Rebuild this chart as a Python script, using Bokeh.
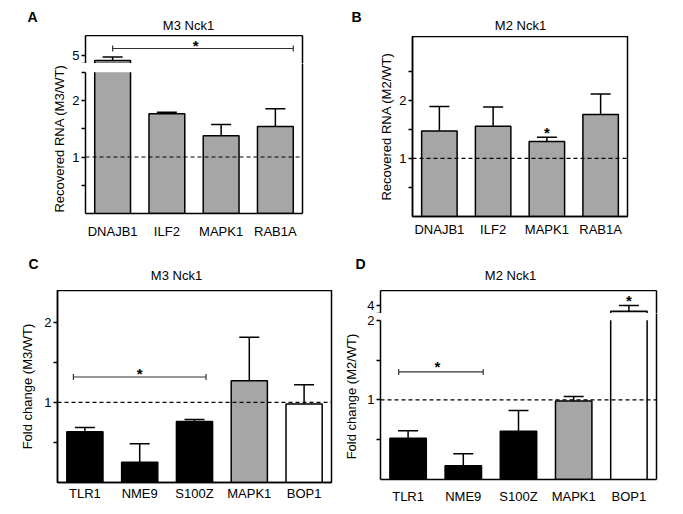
import numpy as np
from bokeh.plotting import figure
from bokeh.models import (FactorRange, Range1d, FixedTicker, Span, Whisker, TeeHead,
                          ColumnDataSource, LinearAxis, BasicTickFormatter)
from bokeh.layouts import row, column
from bokeh.transform import dodge, factor_cmap
from bokeh.core.properties import value
from bokeh.embed import file_html
from bokeh.resources import INLINE

FONT = "Liberation Sans"
GRAY = "#a6a6a6"

# ---------------- data ----------------
genes_top = ["DNAJB1", "ILF2", "MAPK1", "RAB1A"]
groups_top = ["control", "control", "control", "control"]
a_mean = [4.75, 1.70, 1.30, 1.455]
a_upper = [4.92, 1.73, 1.49, 1.81]
b_mean = [1.386, 1.47, 1.225, 1.69]
b_upper = [1.86, 1.85, 1.29, 2.16]

genes_bot = ["TLR1", "NME9", "S100Z", "MAPK1", "BOP1"]
groups_bot = ["down", "down", "down", "control", "other"]
c_mean = [0.775, 0.596, 0.848, 1.206, 0.986]
c_upper = [0.805, 0.699, 0.863, 1.756, 1.165]
d_mean = [0.716, 0.564, 0.761, 0.991, 3.65]
d_upper = [0.765, 0.626, 0.911, 1.03, 4.02]

titles = ["M3 Nck1", "M2 Nck1", "M3 Nck1", "M2 Nck1"]
letters = ["A", "B", "C", "D"]
ylabels = ["Recovered RNA (M3/WT)", "Recovered RNA (M2/WT)",
           "Fold change (M3/WT)", "Fold change (M2/WT)"]

# significance brackets: (left gene, right gene, level)
a_bracket = ("DNAJB1", "RAB1A", 5.35)
c_bracket = ("TLR1", "S100Z", 1.245)
d_bracket = ("TLR1", "NME9", 1.275)
# stars: (gene, level)
a_star = ("ILF2", 5.5)
b_star = ("MAPK1", 1.37)
c_star = ("NME9", 1.285)
d_star1 = ("TLR1", 1.334)
d_star2 = ("BOP1", 4.35)

GROUPS = ["down", "control", "other"]
PALETTE = ["black", GRAY, "white"]
BAR_W = 0.66


def base_fig(xr, yr, log, w, h, bl, br, bt, bb, xaxis=True):
    p = figure(x_range=xr, y_range=yr, y_axis_type="log" if log else "linear",
               width=w, height=h, min_border_left=bl, min_border_right=br,
               min_border_top=bt, min_border_bottom=bb,
               output_backend="svg", toolbar_location=None,
               x_axis_location="below" if xaxis else None)
    p.grid.visible = False
    p.outline_line_color = None
    p.background_fill_color = "white"
    p.border_fill_color = "white"
    return p


def header(w, h, title, tx, ty, letter, lx, ly):
    p = figure(width=w, height=h, x_range=Range1d(0, w), y_range=Range1d(h, 0),
               min_border=0, x_axis_location=None, y_axis_location=None,
               output_backend="svg", toolbar_location=None)
    p.frame_align = False
    p.grid.visible = False
    p.outline_line_color = None
    p.background_fill_color = "white"
    p.border_fill_color = "white"
    p.text(x=[tx], y=[ty], text=[title], text_font=value(FONT), text_font_size="13px",
           text_align="center", text_baseline="middle", text_color="black")
    p.text(x=[lx], y=[ly], text=[letter], text_font=value(FONT), text_font_size="14px",
           text_font_style="bold", text_align="center", text_baseline="middle",
           text_color="black")
    return p


def style_y(ax, major, minor, bounds=None, label=None, lab_standoff=6):
    ax.ticker = FixedTicker(ticks=major, minor_ticks=minor)
    ax.formatter = BasicTickFormatter()
    ax.major_tick_in = 0
    ax.major_tick_out = 4
    ax.minor_tick_in = 0
    ax.minor_tick_out = 4
    ax.major_tick_line_width = 1.5
    ax.minor_tick_line_width = 1.5
    ax.major_tick_line_color = "black"
    ax.minor_tick_line_color = "black"
    ax.axis_line_width = 1.5
    ax.axis_line_color = "black"
    ax.major_label_text_font = FONT
    ax.major_label_text_font_size = "13px"
    ax.major_label_text_color = "black"
    ax.major_label_standoff = 2
    if bounds is not None:
        ax.bounds = bounds
    if label:
        ax.axis_label = label
        ax.axis_label_text_font = FONT
        ax.axis_label_text_font_style = "normal"
        ax.axis_label_text_font_size = "13px"
        ax.axis_label_text_color = "black"
        ax.axis_label_standoff = lab_standoff


def style_x(ax, standoff):
    ax.major_tick_in = 0
    ax.major_tick_out = 0
    ax.minor_tick_in = 0
    ax.minor_tick_out = 0
    ax.major_tick_line_color = None
    ax.minor_tick_line_color = None
    ax.axis_line_width = 1.5
    ax.axis_line_color = "black"
    ax.major_label_text_font = FONT
    ax.major_label_text_font_size = "13px"
    ax.major_label_text_color = "black"
    ax.major_label_standoff = standoff


def edge_axis():
    return LinearAxis(ticker=FixedTicker(ticks=[]), major_tick_line_color=None,
                      minor_tick_line_color=None, major_tick_out=0, minor_tick_out=0,
                      major_tick_in=0, minor_tick_in=0,
                      major_label_text_font_size="0px", major_label_standoff=0,
                      axis_line_width=1.5, axis_line_color="black")


def bars(p, genes, groups, tops, bottom):
    src = ColumnDataSource(dict(x=genes, top=tops, g=groups))
    p.vbar(x="x", top="top", bottom=bottom, width=BAR_W, source=src,
           fill_color=factor_cmap("g", PALETTE, GROUPS),
           line_color="black", line_width=1.5)


def broken_sides(p, genes, groups, top, bottom):
    src = ColumnDataSource(dict(x=genes, g=groups, top=[top] * len(genes)))
    p.vbar(x="x", top="top", bottom=bottom, width=BAR_W, source=src,
           fill_color=factor_cmap("g", PALETTE, GROUPS), line_color=None)
    for off in (-BAR_W / 2, BAR_W / 2):
        p.segment(x0=dodge("x", off, range=p.x_range), x1=dodge("x", off, range=p.x_range),
                  y0=bottom, y1="top", source=src, line_color="black", line_width=1.5)


def errors(p, genes, lows, highs):
    src = ColumnDataSource(dict(x=genes, lower=lows, upper=highs))
    p.add_layout(Whisker(base="x", lower="lower", upper="upper", source=src,
                         line_color="black", line_width=1.5, lower_head=None,
                         upper_head=TeeHead(size=20, line_color="black", line_width=1.5),
                         level="glyph"))


def bracket(p, br, off0, off1):
    src = ColumnDataSource(dict(x0=[br[0]], x1=[br[1]], y=[br[2]]))
    p.segment(x0=dodge("x0", off0, range=p.x_range), x1=dodge("x1", off1, range=p.x_range),
              y0="y", y1="y", source=src, line_color="#333333", line_width=1.2)
    p.scatter(x=dodge("x0", off0, range=p.x_range), y="y", source=src, marker="dash",
              size=6, angle=np.pi / 2, line_color="#333333", line_width=1.2)
    p.scatter(x=dodge("x1", off1, range=p.x_range), y="y", source=src, marker="dash",
              size=6, angle=np.pi / 2, line_color="#333333", line_width=1.2)


def star(p, st, off=0.0):
    src = ColumnDataSource(dict(x=[st[0]], y=[st[1]], t=["*"]))
    p.text(x=dodge("x", off, range=p.x_range), y="y", text="t", source=src,
           text_font=value(FONT), text_font_size="15px", text_font_style="bold",
           text_align="center", text_baseline="alphabetic", text_color="black")


def ref_line(p):
    p.add_layout(Span(location=1, dimension="width", line_color="black",
                      line_dash="4 3", line_width=1.2))


def split(mean, brk):
    keep = [i for i, m in enumerate(mean) if m <= brk]
    over = [i for i, m in enumerate(mean) if m > brk]
    return keep, over


def pick(arr, idx):
    return [arr[i] for i in idx]


SQ2 = 2 ** 0.5

# ---------------- Panel A (broken axis) ----------------
hA = header(340, 35, titles[0], 188, 25, letters[0], 32, 16)
xrA = FactorRange(*genes_top)
A_LO, A_HI, A_BRK = 0.5, 3.15, 2 * SQ2
A_UP = (4.6, 6.0)
keep, over = split(a_mean, A_BRK)

pAt = base_fig(xrA, Range1d(*A_UP), False, 340, 28, 85, 38, 0, 0, xaxis=False)
style_y(pAt.yaxis[0], [5], [A_UP[0] + 0.001])
pAt.add_layout(edge_axis(), "above")
pAt.add_layout(edge_axis(), "right")
bars(pAt, pick(genes_top, over), pick(groups_top, over), pick(a_mean, over), A_UP[0])
errors(pAt, pick(genes_top, over), pick(a_mean, over), pick(a_upper, over))
bracket(pAt, a_bracket, 0.0, 0.33)
star(pAt, a_star, 0.53)

pAb = base_fig(xrA, Range1d(A_LO, A_HI), True, 340, 187, 85, 38, 0, 37)
style_y(pAb.yaxis[0], [1, 2], [SQ2 / 2, SQ2, A_BRK], bounds=(A_LO, A_BRK),
        label=ylabels[0], lab_standoff=2)
style_x(pAb.xaxis[0], 10)
pAb.add_layout(edge_axis(), "right")
bars(pAb, pick(genes_top, keep), pick(groups_top, keep), pick(a_mean, keep), A_LO)
broken_sides(pAb, pick(genes_top, over), pick(groups_top, over), A_BRK, A_LO)
errors(pAb, pick(genes_top, keep), pick(a_mean, keep), pick(a_upper, keep))
ref_line(pAb)

# ---------------- Panel B ----------------
hB = header(335, 36, titles[1], 180, 25, letters[1], 16, 16.5)
xrB = FactorRange(*genes_top)
pB = base_fig(xrB, Range1d(0.5, 4.29), True, 335, 214, 72, 48, 0, 34)
pB.outline_line_color = "black"
pB.outline_line_width = 1.5
style_y(pB.yaxis[0], [1, 2], [SQ2 / 2, SQ2, 2 * SQ2], label=ylabels[1], lab_standoff=2)
style_x(pB.xaxis[0], 5)
bars(pB, genes_top, groups_top, b_mean, 0.5)
errors(pB, genes_top, b_mean, b_upper)
ref_line(pB)
star(pB, b_star)

# ---------------- Panel C ----------------
hC = header(340, 40, titles[2], 176, 25, letters[2], 33, 13)
xrC = FactorRange(*genes_bot)
pC = base_fig(xrC, Range1d(0.5, 2.63), True, 340, 216, 57, 9, 0, 24)
pC.outline_line_color = "black"
pC.outline_line_width = 1.5
style_y(pC.yaxis[0], [1, 2], [SQ2 / 2, SQ2], label=ylabels[2], lab_standoff=6)
style_x(pC.xaxis[0], 3)
bars(pC, genes_bot, groups_bot, c_mean, 0.5)
errors(pC, genes_bot, c_mean, c_upper)
ref_line(pC)
bracket(pC, c_bracket, -0.21, 0.21)
star(pC, c_star)

# ---------------- Panel D (broken axis) ----------------
hD = header(335, 40, titles[3], 170, 25, letters[3], 20, 13)
xrD = FactorRange(*genes_bot)
D_LO, D_HI, D_BRK = 0.5, 2.12, 2.0
D_UP = (3.5, 5.0)
keep, over = split(d_mean, D_BRK)

pDt = base_fig(xrD, Range1d(*D_UP), False, 335, 23, 40, 19, 0, 0, xaxis=False)
style_y(pDt.yaxis[0], [4], [D_UP[0] + 0.001])
pDt.add_layout(edge_axis(), "above")
pDt.add_layout(edge_axis(), "right")
bars(pDt, pick(genes_bot, over), pick(groups_bot, over), pick(d_mean, over), D_UP[0])
errors(pDt, pick(genes_bot, over), pick(d_mean, over), pick(d_upper, over))
star(pDt, d_star2)

pDb = base_fig(xrD, Range1d(D_LO, D_HI), True, 335, 193, 40, 19, 0, 25)
style_y(pDb.yaxis[0], [1, 2], [SQ2 / 2, SQ2], bounds=(D_LO, D_BRK),
        label=ylabels[3], lab_standoff=5)
style_x(pDb.xaxis[0], 9)
pDb.add_layout(edge_axis(), "right")
bars(pDb, pick(genes_bot, keep), pick(groups_bot, keep), pick(d_mean, keep), D_LO)
broken_sides(pDb, pick(genes_bot, over), pick(groups_bot, over), D_BRK, D_LO)
errors(pDb, pick(genes_bot, keep), pick(d_mean, keep), pick(d_upper, keep))
ref_line(pDb)
bracket(pDb, d_bracket, -0.17, 0.36)
star(pDb, d_star1, 0.53)

layout = column(row(column(hA, pAt, pAb), column(hB, pB)),
                row(column(hC, pC), column(hD, pDt, pDb)))

with open("out.html", "w") as f:
    f.write(file_html(layout, INLINE))
